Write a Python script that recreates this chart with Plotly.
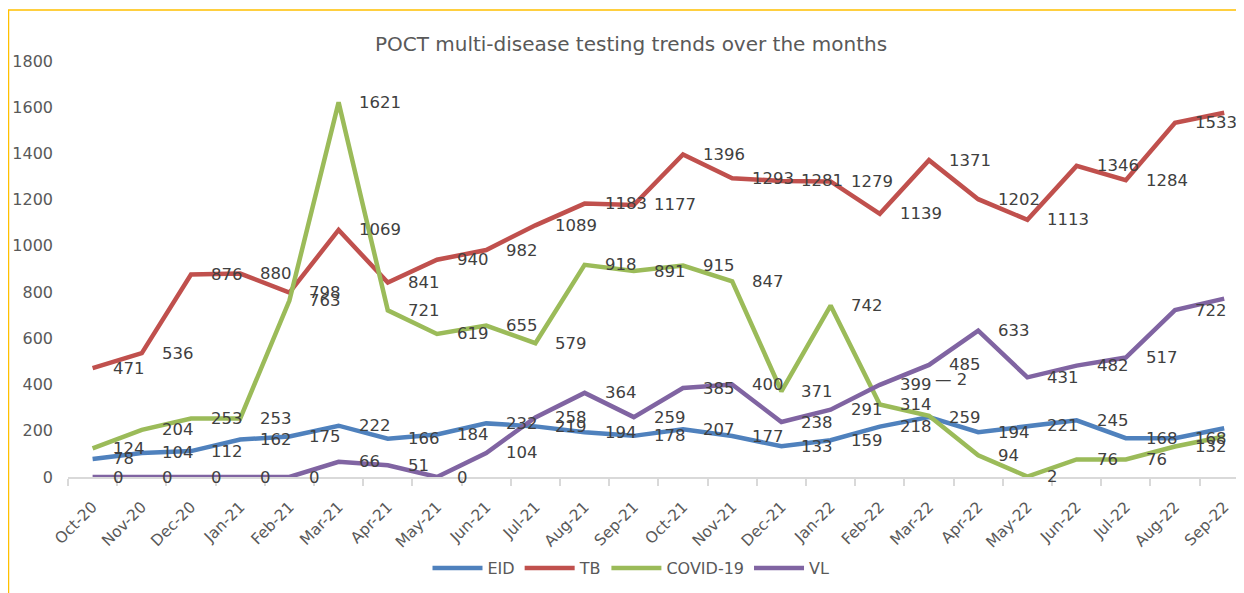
import plotly.graph_objects as go

months = ["Oct-20", "Nov-20", "Dec-20", "Jan-21", "Feb-21", "Mar-21", "Apr-21", "May-21",
          "Jun-21", "Jul-21", "Aug-21", "Sep-21", "Oct-21", "Nov-21", "Dec-21", "Jan-22",
          "Feb-22", "Mar-22", "Apr-22", "May-22", "Jun-22", "Jul-22", "Aug-22", "Sep-22"]

eid = [78, 104, 112, 162, 175, 222, 166, 184, 232, 219, 194, 178, 207, 177, 133, 159,
       218, 259, 194, 221, 245, 168, 168, 211]
tb = [471, 536, 876, 880, 798, 1069, 841, 940, 982, 1089, 1183, 1177, 1396, 1293, 1281, 1279,
      1139, 1371, 1202, 1113, 1346, 1284, 1533, 1576]
covid = [124, 204, 253, 253, 763, 1621, 721, 619, 655, 579, 918, 891, 915, 847, 371, 742,
         314, 265, 94, 2, 76, 76, 132, 175]
vl = [0, 0, 0, 0, 0, 66, 51, 0, 104, 258, 364, 259, 385, 400, 238, 291,
      399, 485, 633, 431, 482, 517, 722, 772]

# data-label texts as displayed (one COVID label partly hidden, shown with a leader line)
covid_labels = [str(v) for v in covid]
covid_labels[17] = "\u2014 2"

series = [
    ("EID", eid, [str(v) for v in eid], "#4F81BD"),
    ("TB", tb, [str(v) for v in tb], "#C0504D"),
    ("COVID-19", covid, covid_labels, "#9BBB59"),
    ("VL", vl, [str(v) for v in vl], "#8064A2"),
]

# page body has an 8px margin: the figure starts at (8, 8) in the window
W, H = 1236, 585
PL, PT, PB = 60, 53, 469          # plot area edges in figure pixels
PW, PH = W - PL, PB - PT

fig = go.Figure()
annotations = []
for name, vals, labels, color in series:
    fig.add_trace(go.Scatter(
        x=months, y=vals, name=name, mode="lines",
        line=dict(color=color, width=4.5),
        cliponaxis=False, hoverinfo="x+y+name",
    ))
    for i, (m, v, lab) in enumerate(zip(months, vals, labels)):
        moved = lab.startswith("\u2014")
        annotations.append(dict(
            x=m, y=v, xref="x", yref="y", text=lab, showarrow=False,
            xanchor="left", yanchor="middle",
            xshift=4 if moved else 18, yshift=36 if moved else 0,
            font=dict(family="DejaVu Sans", size=16.5, color="#404040"),
        ))

fig.update_layout(
    width=W, height=H,
    margin=dict(l=PL, r=0, t=PT, b=H - PB, autoexpand=False),
    paper_bgcolor="white", plot_bgcolor="white",
    font=dict(family="DejaVu Sans", color="#595959", size=15),
    title=dict(
        text="POCT multi-disease testing trends over the months",
        x=623 / W, xref="container", xanchor="center",
        y=1 - 36 / H, yref="container", yanchor="middle",
        font=dict(family="DejaVu Sans", size=20, color="#595959"),
    ),
    showlegend=True,
    legend=dict(
        orientation="h", x=(623 - PL) / PW, xanchor="center",
        y=(PB - 560) / PH, yanchor="middle",
        font=dict(family="DejaVu Sans", size=16, color="#595959"),
        itemwidth=50, bgcolor="rgba(0,0,0,0)",
    ),
    annotations=annotations,
    shapes=[dict(
        type="rect", xref="paper", yref="paper",
        x0=(0.5 - PL) / PW, x1=1.2,
        y0=-0.5, y1=(PB - 2) / PH,
        line=dict(color="#FFC000", width=1.5), fillcolor="rgba(0,0,0,0)",
        layer="below",
    )],
)

fig.update_xaxes(
    type="category", categoryorder="array", categoryarray=months,
    range=[-0.5, -0.5 + PW / 49.2],
    showline=True, linecolor="#D9D9D9", linewidth=1.5,
    ticks="outside", tickson="boundaries", ticklen=7, tickcolor="#D9D9D9", tickwidth=1.5,
    tickangle=-45, showgrid=False, zeroline=False, ticklabelstandoff=13,
    automargin=False,
    tickfont=dict(family="DejaVu Sans", size=15.5, color="#595959"),
)
fig.update_yaxes(
    range=[0, 1800], dtick=200, showgrid=False, zeroline=False, showline=False,
    ticks="", ticklabelstandoff=14, automargin=False,
    tickfont=dict(family="DejaVu Sans", size=16, color="#595959"),
)

fig.write_html("out.html")
